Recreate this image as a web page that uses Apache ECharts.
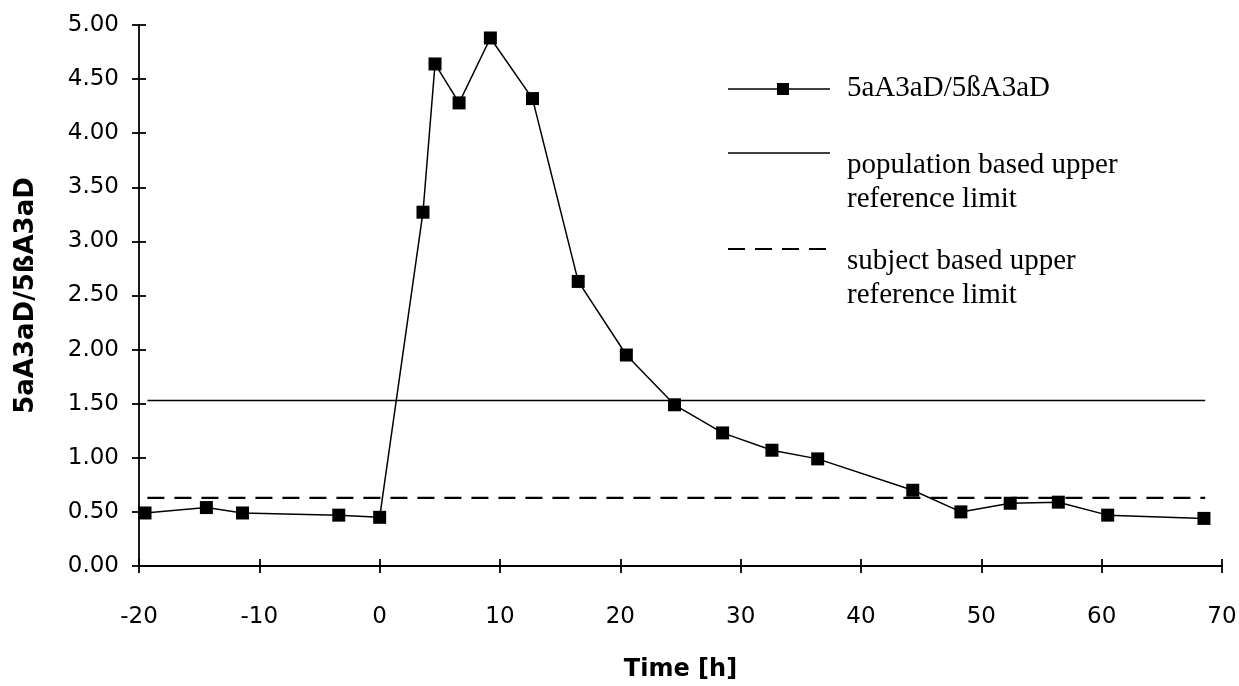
<!DOCTYPE html>
<html>
<head>
<meta charset="utf-8">
<script src="https://cdn.jsdelivr.net/npm/echarts@6/dist/echarts.min.js"></script>
<style>
  html, body { margin: 0; padding: 0; background: #fff; }
  #chart { width: 1239px; height: 686px; }
</style>
</head>
<body>
<div id="chart"></div>
<script>
  // measured points (time in hours, ratio)
  var timeH = [-19.5, -14.4, -11.4, -3.4, 0, 3.6, 4.6, 6.6, 9.2, 12.7, 16.5, 20.5, 24.5, 28.5, 32.6, 36.4, 44.3, 48.3, 52.4, 56.4, 60.5, 68.5];
  var ratio = [0.49, 0.54, 0.49, 0.47, 0.45, 3.27, 4.64, 4.28, 4.88, 4.32, 2.63, 1.95, 1.49, 1.23, 1.07, 0.99, 0.70, 0.50, 0.58, 0.59, 0.47, 0.44];

  // reference limits, drawn from first to last time
  var limitSpan = [-19.3, 68.6];
  var populationLimit = 1.53;
  var subjectLimit = 0.63;

  var xTicks = [-20, -10, 0, 10, 20, 30, 40, 50, 60, 70];
  var yTicks = [0, 0.5, 1, 1.5, 2, 2.5, 3, 3.5, 4, 4.5, 5];

  var seriesName = '5aA3aD/5ßA3aD';
  var legendNames = [seriesName, 'population based upper\nreference limit', 'subject based upper\nreference limit'];

  var mainData = timeH.map(function (t, i) { return [t, ratio[i]]; });
  var popData = limitSpan.map(function (t) { return [t, populationLimit]; });
  var subjData = limitSpan.map(function (t) { return [t, subjectLimit]; });

  var axisFont = { fontFamily: 'DejaVu Sans', fontSize: 23, color: '#000' };
  var lineStyle = { color: '#000', width: 1.8 };

  var myChart = echarts.init(document.getElementById('chart'));

  function xAxisCfg(main) {
    return {
      type: 'value',
      min: xTicks[0],
      max: xTicks[xTicks.length - 1],
      interval: 10,
      position: 'bottom',
      name: main ? 'Time [h]' : '',
      nameLocation: 'middle',
      nameGap: 92,
      nameTextStyle: { fontFamily: 'DejaVu Sans', fontWeight: 'bold', fontSize: 24, color: '#000' },
      axisLine: { show: main, onZero: false, lineStyle: lineStyle },
      axisTick: { show: true, inside: !main, length: 7, lineStyle: lineStyle },
      axisLabel: main ? Object.assign({ margin: 40 }, axisFont) : { show: false },
      splitLine: { show: false }
    };
  }

  function yAxisCfg(main) {
    return {
      type: 'value',
      min: yTicks[0],
      max: yTicks[yTicks.length - 1],
      interval: 0.5,
      position: 'left',
      name: main ? seriesName : '',
      nameLocation: 'middle',
      nameGap: 100,
      nameRotate: 90,
      nameTextStyle: { fontFamily: 'DejaVu Sans', fontWeight: 'bold', fontSize: 26, color: '#000' },
      axisLine: { show: main, onZero: false, lineStyle: lineStyle },
      axisTick: { show: true, inside: !main, length: 7, lineStyle: lineStyle },
      axisLabel: main ? Object.assign({ margin: 20, formatter: function (v) { return v.toFixed(2); } }, axisFont) : { show: false },
      splitLine: { show: false }
    };
  }

  // legend drawn by hand (line samples + serif text)
  var lx0 = 728, lx1 = 830, tx = 847;
  var legendFont = '29px "Liberation Serif"';
  var graphics = [
    { type: 'line', shape: { x1: lx0, y1: 89, x2: lx1, y2: 89 }, style: { stroke: '#000', lineWidth: 1.5 } },
    { type: 'rect', shape: { x: 777, y: 83, width: 12, height: 12 }, style: { fill: '#000' } },
    { type: 'text', left: tx, top: 74, style: { text: legendNames[0], font: legendFont, fill: '#000' } },
    { type: 'line', shape: { x1: lx0, y1: 153, x2: lx1, y2: 153 }, style: { stroke: '#000', lineWidth: 1.5 } },
    { type: 'text', left: tx, top: 148, style: { text: legendNames[1], font: legendFont, fill: '#000', lineHeight: 34 } },
    { type: 'line', shape: { x1: lx0, y1: 249, x2: lx1, y2: 249 }, style: { stroke: '#000', lineWidth: 2, lineDash: [17, 10] } },
    { type: 'text', left: tx, top: 244, style: { text: legendNames[2], font: legendFont, fill: '#000', lineHeight: 34 } }
  ];

  var option = {
    backgroundColor: '#fff',
    animation: false,
    grid: { left: 139, right: 17, top: 25, bottom: 120, containLabel: false, outerBoundsMode: 'none' },
    xAxis: [xAxisCfg(true), xAxisCfg(false)],
    yAxis: [yAxisCfg(true), yAxisCfg(false)],
    graphic: graphics,
    series: [
      {
        name: legendNames[1],
        type: 'line',
        data: popData,
        showSymbol: false,
        lineStyle: { color: '#000', width: 1.5 }
      },
      {
        name: legendNames[2],
        type: 'line',
        data: subjData,
        showSymbol: false,
        lineStyle: { color: '#000', width: 2.2, type: [17, 10] }
      },
      {
        name: seriesName,
        type: 'line',
        data: mainData,
        symbol: 'rect',
        symbolSize: 13,
        itemStyle: { color: '#000' },
        lineStyle: { color: '#000', width: 1.5 }
      }
    ]
  };

  myChart.setOption(option);
</script>
</body>
</html>
